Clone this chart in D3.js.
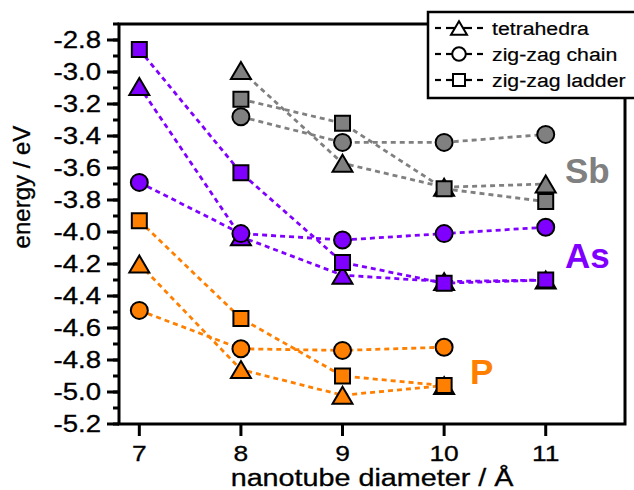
<!DOCTYPE html>
<html><head><meta charset="utf-8">
<script src="https://cdn.jsdelivr.net/npm/d3@7"></script>
<style>body{margin:0;background:#fff}svg{display:block;font-family:"Liberation Sans",Arial,sans-serif}</style>
</head><body><svg id="c" width="634" height="490"></svg>
<script>
const diameters = [7, 8, 9, 10, 11];
const structures = ["tetrahedra", "zig-zag chain", "zig-zag ladder"];
const elements = ["P", "As", "Sb"];
const P_tetra  = [-4.20, -4.86, -5.02, -4.96, null];
const P_chain  = [-4.49, -4.73, -4.74, -4.72, null];
const P_ladder = [-3.93, -4.54, -4.90, -4.96, null];
const As_tetra  = [-3.09, -4.03, -4.27, -4.31, -4.30];
const As_chain  = [-3.69, -4.01, -4.05, -4.01, -3.97];
const As_ladder = [-2.86, -3.63, -4.19, -4.32, -4.30];
const Sb_tetra  = [null, -2.99, -3.57, -3.72, -3.70];
const Sb_chain  = [null, -3.28, -3.44, -3.44, -3.39];
const Sb_ladder = [null, -3.17, -3.32, -3.73, -3.81];
const yTicks = [-2.8,-3.0,-3.2,-3.4,-3.6,-3.8,-4.0,-4.2,-4.4,-4.6,-4.8,-5.0,-5.2];
const xTicks = [7, 8, 9, 10, 11];

const colors = {P: "#ff8000", As: "#8000ff", Sb: "#808080"};
const seriesData = {
  P:  [P_tetra, P_chain, P_ladder],
  As: [As_tetra, As_chain, As_ladder],
  Sb: [Sb_tetra, Sb_chain, Sb_ladder]
};
const shapes = ["triangle", "circle", "square"];

const svg = d3.select("#c");
const x = d3.scaleLinear().domain([6.8, 11.8]).range([119, 627]);
const y = d3.scaleLinear().domain([-5.2, -2.7]).range([424, 24]);

function markerPath(shape, s) {
  if (shape === "triangle") { const w = 20*s, h = 17*s; return `M0,${-h/2}L${w/2},${h/2}L${-w/2},${h/2}Z`; }
  if (shape === "square") { const a = 15*s/2; return `M${-a},${-a}H${a}V${a}H${-a}Z`; }
  const r = 8.5*s; return `M${r},0A${r},${r} 0 1,1 ${-r},0A${r},${r} 0 1,1 ${r},0Z`;
}

// data
const line = d3.line().defined(d => d.v !== null).x(d => x(d.d)).y(d => y(d.v));
const plot = svg.append("g");
["Sb", "As", "P"].forEach(el => {
  const g = plot.append("g");
  seriesData[el].forEach((vals, si) => {
    const pts = diameters.map((d, i) => ({d, v: vals[i]}));
    g.append("path").attr("d", line(pts)).attr("fill", "none")
      .attr("stroke", colors[el]).attr("stroke-width", 2.8).attr("stroke-dasharray", "5,4");
  });
  seriesData[el].forEach((vals, si) => {
    const pts = diameters.map((d, i) => ({d, v: vals[i]})).filter(p => p.v !== null);
    g.selectAll(null).data(pts).enter().append("path")
      .attr("transform", p => `translate(${x(p.d)},${y(p.v)})`)
      .attr("d", markerPath(shapes[si], 1))
      .attr("fill", colors[el]).attr("stroke", "#000").attr("stroke-width", 2);
  });
});

// axes
const yMinor = d3.range(-5.2, -2.65, 0.1).map(v => +v.toFixed(1));
const ax = svg.append("g");
ax.selectAll(null).data(yMinor).enter().append("line")
  .attr("x1", 113).attr("x2", 119).attr("y1", d => y(d)).attr("y2", d => y(d))
  .attr("stroke", "#000").attr("stroke-width", 3);
ax.selectAll(null).data(yTicks).enter().append("line")
  .attr("x1", 107).attr("x2", 119).attr("y1", d => y(d)).attr("y2", d => y(d))
  .attr("stroke", "#000").attr("stroke-width", 3);
ax.selectAll(null).data(yTicks).enter().append("text")
  .attr("transform", d => `translate(101,${y(d) + 8}) scale(1.2,1)`)
  .attr("text-anchor", "end").attr("font-size", 23)
  .attr("stroke", "#000").attr("stroke-width", 0.3).text(d => d.toFixed(1));
ax.selectAll(null).data(xTicks).enter().append("line")
  .attr("x1", d => x(d)).attr("x2", d => x(d)).attr("y1", 424).attr("y2", 436)
  .attr("stroke", "#000").attr("stroke-width", 3);
ax.selectAll(null).data(xTicks).enter().append("text")
  .attr("transform", d => `translate(${x(d)},461) scale(1.2,1)`)
  .attr("text-anchor", "middle").attr("font-size", 22)
  .attr("stroke", "#000").attr("stroke-width", 0.3).text(d => d);
svg.append("rect").attr("x", 119).attr("y", 24).attr("width", 506).attr("height", 400)
  .attr("fill", "none").attr("stroke", "#000").attr("stroke-width", 3);

svg.append("text").attr("transform", "translate(30,187) rotate(-90)")
  .attr("text-anchor", "middle").attr("font-size", 24)
  .attr("stroke", "#000").attr("stroke-width", 0.3).text("energy / eV");
svg.append("text").attr("transform", "translate(372,486) scale(1.25,1)")
  .attr("text-anchor", "middle").attr("font-size", 23)
  .attr("stroke", "#000").attr("stroke-width", 0.3).text("nanotube diameter / Å");

// element labels
const elLabels = [{t: "Sb", x: 565, y: 183}, {t: "As", x: 565, y: 268}, {t: "P", x: 470, y: 384}];
svg.selectAll(null).data(elLabels).enter().append("text")
  .attr("x", d => d.x).attr("y", d => d.y).attr("font-size", 35).attr("font-weight", "bold")
  .attr("fill", d => colors[d.t]).text(d => d.t);

// legend
const lg = svg.append("g");
lg.append("rect").attr("x", 428).attr("y", 12).attr("width", 220).attr("height", 86)
  .attr("fill", "#fff").attr("stroke", "#000").attr("stroke-width", 2.5);
structures.forEach((s, i) => {
  const cy = 28 + i * 26;
  [[435, 441], [477, 483]].forEach(([a, b]) => {
    lg.append("line").attr("x1", a).attr("x2", b).attr("y1", cy).attr("y2", cy)
      .attr("stroke", "#000").attr("stroke-width", 2.2);
  });
  lg.append("line").attr("x1", 446).attr("x2", 472).attr("y1", cy).attr("y2", cy)
    .attr("stroke", "#000").attr("stroke-width", 2.2);
  lg.append("path").attr("transform", `translate(459,${cy})`).attr("d", markerPath(shapes[i], 0.8))
    .attr("fill", "#fff").attr("stroke", "#000").attr("stroke-width", 2);
  lg.append("text").attr("transform", `translate(492,${cy + 7}) scale(1.12,1)`)
    .attr("font-size", 19).attr("stroke", "#000").attr("stroke-width", 0.2).text(s);
});
</script></body></html>
